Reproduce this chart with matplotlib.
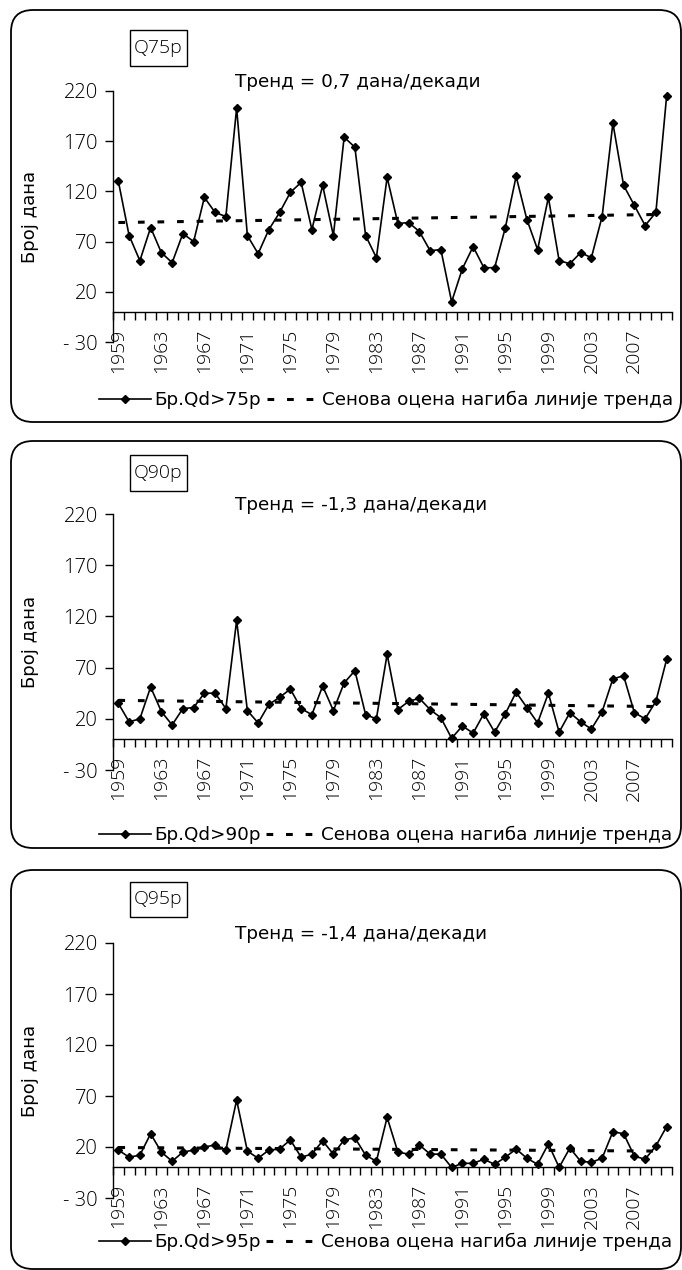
import matplotlib
matplotlib.use("Agg")
import matplotlib.pyplot as plt
from matplotlib.patches import FancyBboxPatch, Rectangle
from matplotlib.lines import Line2D
import numpy as np

# ---------------- data ----------------
years = list(range(1959, 2011))
year_labels = [str(y) for y in years]

q75 = [130, 76, 51, 84, 59, 49, 78, 70, 114, 99,
       95, 203, 76, 58, 82, 99, 119, 129, 82, 126,
       76, 174, 164, 76, 54, 134, 88, 89, 80, 61,
       62, 10, 43, 65, 44, 44, 84, 135, 92, 62,
       114, 51, 48, 59, 54, 95, 188, 126, 106, 86,
       99, 215]
q90 = [35, 17, 20, 51, 27, 14, 30, 31, 45, 45,
       30, 116, 28, 16, 34, 41, 49, 30, 24, 52,
       28, 55, 67, 24, 20, 83, 29, 37, 40, 29,
       21, 1, 13, 6, 25, 7, 25, 46, 31, 16,
       45, 7, 26, 17, 10, 27, 59, 62, 26, 20,
       37, 78]
q95 = [17, 10, 12, 33, 15, 6, 15, 17, 20, 22,
       17, 66, 16, 9, 17, 18, 27, 10, 13, 26,
       13, 27, 29, 12, 6, 49, 15, 13, 22, 13,
       13, 0, 4, 4, 8, 3, 10, 18, 9, 3,
       23, 0, 19, 6, 5, 9, 35, 33, 11, 8,
       21, 40]

# Sen's slope trend lines: values at start and end year
trend_years = [1959, 2009]
trend75 = [89, 97]
trend90 = [38, 32]
trend95 = [19.5, 16]

panel_names = ["Q75p", "Q90p", "Q95p"]
trend_texts = ["Тренд = 0,7 дана/декади", "Тренд = -1,3 дана/декади", "Тренд = -1,4 дана/декади"]
series_names = ["Бр.Qd>75p", "Бр.Qd>90p", "Бр.Qd>95p"]
trend_name = "Сенова оцена нагиба линије тренда"
y_label = "Број дана"
y_ticks = [-30, 20, 70, 120, 170, 220]
y_ticklabels = ["- 30", "20", "70", "120", "170", "220"]
label_step = 4

# ---------------- layout (pixels) ----------------
W, H = 682, 1270
DPI = 100
fig = plt.figure(figsize=(W / DPI, H / DPI), dpi=DPI)
fig.patch.set_facecolor("white")

TICKFONT = dict(family=["Open Sans", "DejaVu Sans"], weight="light")
TEXTFONT = dict(family=["DejaVu Sans"])

panels = [
    dict(box=(10, 422), ax=(91, 342), qbox=(30, 66), ty=82, ly=400),
    dict(box=(441, 848), ax=(514, 770), qbox=(455, 491), ty=505, ly=835),
    dict(box=(870, 1269), ax=(943, 1198), qbox=(882, 917), ty=934, ly=1242),
]
series = [q75, q90, q95]
trends = [trend75, trend90, trend95]

AX_L, AX_R = 113, 672

def fx(px):
    return px / W

def fy(py):
    return 1 - py / H

x = np.arange(len(years))
for i, p in enumerate(panels):
    bt, bb = p["box"]
    box = FancyBboxPatch((11 / DPI, (H - bb) / DPI), (681 - 11) / DPI, (bb - bt) / DPI,
                         boxstyle="round,pad=0,rounding_size=0.22",
                         transform=fig.dpi_scale_trans, fill=False,
                         edgecolor="black", linewidth=1.3, zorder=0)
    fig.patches.append(box)

    at, ab = p["ax"]
    ax = fig.add_axes([fx(AX_L), fy(ab), fx(AX_R - AX_L), (ab - at) / H])
    ax.set_facecolor("none")
    ax.set_xlim(-0.5, len(years) - 0.5)
    ax.set_ylim(-30, 220)

    ax.plot(x, series[i], color="black", linewidth=1.2, marker="D",
            markersize=4.5, zorder=3)
    tx = [years.index(ty) for ty in trend_years]
    ax.plot(tx, trends[i], color="black", linewidth=2.2,
            linestyle=(0, (2.2, 4.2)), zorder=2)

    for s in ["top", "right"]:
        ax.spines[s].set_visible(False)
    ax.spines["bottom"].set_position(("data", 0))
    ax.spines["left"].set_linewidth(1.0)
    ax.spines["bottom"].set_linewidth(1.0)

    ax.set_yticks(y_ticks)
    ax.set_yticklabels(y_ticklabels, fontsize=14.5, **TICKFONT)
    ax.tick_params(axis="y", direction="out", length=6, width=1.0, pad=5)

    ax.set_xticks(x[::label_step])
    ax.set_xticklabels(year_labels[::label_step], rotation=90, fontsize=14,
                       **TICKFONT)
    ax.set_xticks(np.arange(-0.5, len(years)), minor=True)
    ax.tick_params(axis="x", which="major", length=0, pad=12)
    ax.tick_params(axis="x", which="minor", direction="out", length=6, width=1.0)

    # y label
    fig.text(fx(30), fy((at + ab) / 2), y_label, rotation=90, ha="center",
             va="center", fontsize=13, **TEXTFONT)

    # panel name box
    qt, qb = p["qbox"]
    fig.patches.append(Rectangle((130 / DPI, (H - qb) / DPI), 57 / DPI, (qb - qt) / DPI,
                                 transform=fig.dpi_scale_trans, facecolor="white",
                                 edgecolor="black", linewidth=1.0, zorder=1))
    fig.text(fx(158.5), fy((qt + qb) / 2), panel_names[i], ha="center", va="center",
             fontsize=14, **TICKFONT)

    # trend text
    fig.text(fx(235), fy(p["ty"]), trend_texts[i], ha="left", va="center",
             fontsize=13.2, **TEXTFONT)

    # legend
    h1 = Line2D([], [], color="black", linewidth=1.2, marker="D", markersize=4)
    h2 = Line2D([], [], color="black", linewidth=2.2, linestyle=(0, (2.2, 4.2)))
    fig.legend([h1, h2], [series_names[i], trend_name], loc="center",
               bbox_to_anchor=(fx(386), fy(p["ly"])), ncol=2, frameon=False,
               prop=dict(family="DejaVu Sans", size=13.2), handlelength=2.8,
               handletextpad=0.2, columnspacing=0.3, borderpad=0, borderaxespad=0)

fig.savefig("out.png", dpi=DPI)
